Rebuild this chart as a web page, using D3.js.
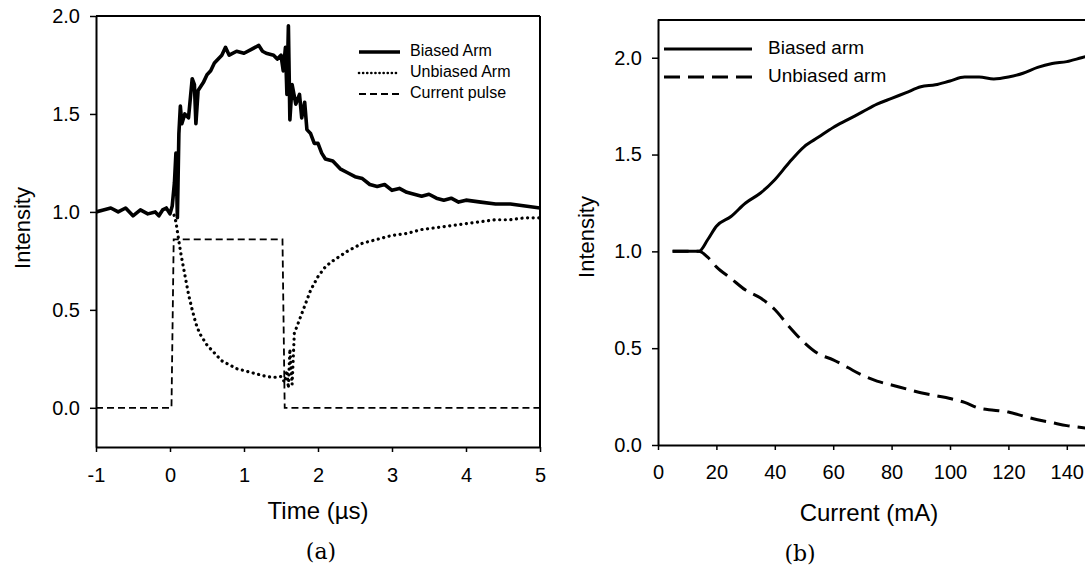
<!DOCTYPE html>
<html>
<head>
<meta charset="utf-8">
<script src="https://cdn.jsdelivr.net/npm/d3@7"></script>
<style>
  html, body { margin: 0; padding: 0; background: #fff; }
  svg { display: block; }
  text { font-family: "Liberation Sans", Arial, Helvetica, sans-serif; fill: #000; }
</style>
</head>
<body>
<svg id="chart" width="1085" height="570"></svg>
<script>
// ---------- Panel (a) data ----------
const biasedTime = [-1.0,-0.9,-0.8,-0.7,-0.6,-0.5,-0.4,-0.3,-0.2,-0.15,-0.1,-0.05,0.0,0.03,0.06,0.08,0.1,0.12,0.14,0.16,0.2,0.25,0.3,0.33,0.35,0.38,0.45,0.5,0.55,0.6,0.7,0.75,0.8,0.9,1.0,1.1,1.2,1.25,1.3,1.4,1.45,1.5,1.53,1.56,1.58,1.6,1.62,1.65,1.7,1.75,1.78,1.82,1.85,1.9,1.95,2.0,2.05,2.1,2.2,2.3,2.4,2.5,2.6,2.7,2.8,2.9,3.0,3.1,3.2,3.3,3.4,3.5,3.6,3.7,3.8,3.9,4.0,4.2,4.4,4.6,4.8,5.0];
const biasedVal  = [1.00,1.01,1.02,1.00,1.02,0.98,1.01,0.99,1.00,0.98,1.01,1.02,0.99,1.03,1.15,1.30,0.97,1.40,1.54,1.45,1.50,1.48,1.68,1.65,1.45,1.62,1.66,1.70,1.72,1.76,1.80,1.84,1.80,1.82,1.81,1.83,1.85,1.82,1.81,1.80,1.78,1.80,1.72,1.84,1.60,1.95,1.47,1.65,1.55,1.60,1.48,1.56,1.42,1.40,1.35,1.35,1.30,1.27,1.26,1.22,1.20,1.18,1.17,1.14,1.13,1.14,1.11,1.12,1.10,1.09,1.08,1.09,1.07,1.06,1.07,1.05,1.06,1.05,1.04,1.04,1.03,1.02];

const unbiasedTime = [0.0,0.05,0.08,0.1,0.12,0.15,0.2,0.25,0.3,0.35,0.4,0.5,0.6,0.7,0.8,0.9,1.0,1.1,1.2,1.3,1.4,1.5,1.55,1.58,1.6,1.62,1.65,1.68,1.72,1.8,1.9,2.0,2.1,2.2,2.4,2.6,2.8,3.0,3.2,3.4,3.6,3.8,4.0,4.2,4.4,4.6,4.8,5.0];
const unbiasedVal  = [1.00,0.99,0.95,0.90,0.85,0.78,0.68,0.58,0.50,0.43,0.38,0.32,0.28,0.24,0.22,0.20,0.19,0.18,0.17,0.16,0.155,0.16,0.13,0.19,0.10,0.30,0.12,0.38,0.42,0.50,0.60,0.67,0.72,0.75,0.80,0.84,0.86,0.88,0.89,0.91,0.92,0.93,0.94,0.95,0.96,0.96,0.97,0.97];

const pulseTime = [-1.0,0.02,0.05,1.52,1.55,5.0];
const pulseVal  = [0.0,0.0,0.86,0.86,0.0,0.0];

const aXTicks = [-1,0,1,2,3,4,5];
const aYTicks = [0.0,0.5,1.0,1.5,2.0];
const aLegend = ["Biased Arm","Unbiased Arm","Current pulse"];

// ---------- Panel (b) data ----------
const currentMA = [5,10,14,17,20,25,30,35,40,45,50,55,60,65,70,75,80,85,90,95,100,105,110,115,120,125,130,135,140,145,150];
const biasedArm = [1.0,1.0,1.0,1.06,1.13,1.18,1.25,1.30,1.37,1.46,1.54,1.59,1.64,1.68,1.72,1.76,1.79,1.82,1.85,1.86,1.88,1.90,1.90,1.89,1.90,1.92,1.95,1.97,1.98,2.00,2.02];
const unbiasedArm = [1.0,1.0,1.0,0.97,0.92,0.86,0.80,0.76,0.70,0.61,0.53,0.47,0.44,0.40,0.36,0.33,0.31,0.29,0.27,0.255,0.24,0.22,0.19,0.18,0.17,0.15,0.13,0.115,0.10,0.09,0.08];

const bXTicks = [0,20,40,60,80,100,120,140];
const bYTicks = [0.0,0.5,1.0,1.5,2.0];
const bLegend = ["Biased arm","Unbiased arm"];

const svg = d3.select("#chart");
svg.append("rect").attr("width",1085).attr("height",570).attr("fill","#fff");

const intFmt = d => (d < 0 ? "-" + Math.abs(d) : String(d));

function styleAxis(g) {
  g.attr("font-family", null).attr("font-size", null);
  g.selectAll("path.domain").attr("stroke","#000").attr("stroke-width",2);
  g.selectAll(".tick line").attr("stroke","#000").attr("stroke-width",1.5);
  g.selectAll(".tick text").style("font-size","20px").style("font-family","'Liberation Sans', Arial, sans-serif").attr("fill","#000");
}

// ================= Panel (a) =================
const ax = d3.scaleLinear().domain([-1,5]).range([96,540]);
const ay = d3.scaleLinear().domain([-0.2,2.0]).range([447,16]);

svg.append("clipPath").attr("id","clipA").append("rect")
  .attr("x",96).attr("y",16).attr("width",444).attr("height",431);

const gA = svg.append("g");
const plotA = gA.append("g").attr("clip-path","url(#clipA)");

const lineA = d3.line().x(d => ax(d[0])).y(d => ay(d[1]));

plotA.append("path")
  .datum(pulseTime.map((t,i) => [t,pulseVal[i]]))
  .attr("d", lineA).attr("fill","none").attr("stroke","#000")
  .attr("stroke-width",1.8).attr("stroke-dasharray","7,4");

plotA.append("path")
  .datum(unbiasedTime.map((t,i) => [t,unbiasedVal[i]]))
  .attr("d", lineA).attr("fill","none").attr("stroke","#000")
  .attr("stroke-width",3.2).attr("stroke-dasharray","0.1,5.5").attr("stroke-linecap","round");

plotA.append("path")
  .datum(biasedTime.map((t,i) => [t,biasedVal[i]]))
  .attr("d", lineA).attr("fill","none").attr("stroke","#000")
  .attr("stroke-width",3.6).attr("stroke-linejoin","round");

// frame
gA.append("line").attr("x1",96).attr("x2",540).attr("y1",16).attr("y2",16).attr("stroke","#000").attr("stroke-width",2);
gA.append("line").attr("x1",540).attr("x2",540).attr("y1",16).attr("y2",447).attr("stroke","#000").attr("stroke-width",2);

const aXAxis = gA.append("g").attr("transform","translate(0,447)")
  .call(d3.axisBottom(ax).tickValues(aXTicks).tickFormat(intFmt).tickSize(5).tickSizeOuter(0).tickPadding(16));
styleAxis(aXAxis);
const aYAxis = gA.append("g").attr("transform","translate(96,0)")
  .call(d3.axisLeft(ay).tickValues(aYTicks).tickFormat(d3.format(".1f")).tickSize(6).tickSizeOuter(0).tickPadding(10));
styleAxis(aYAxis);

gA.append("text").attr("x",318).attr("y",513).attr("text-anchor","middle").attr("dominant-baseline","middle")
  .style("font-size","24px").text("Time (\u00B5s)");
gA.append("text").attr("transform","translate(24,228) rotate(-90)").attr("text-anchor","middle").attr("dominant-baseline","middle")
  .style("font-size","22px").text("Intensity");
gA.append("text").attr("x",321).attr("y",553).attr("text-anchor","middle").attr("dominant-baseline","middle")
  .style("font-size","22px").style("font-family","'DejaVu Serif','Liberation Serif',serif").text("(a)");

// legend (a)
const aLegY = [52,73,94];
const aLegStyle = [
  {w:3.6, dash:null, cap:"butt"},
  {w:2.6, dash:"0.1,4", cap:"round"},
  {w:1.8, dash:"7,4", cap:"butt"}
];
aLegend.forEach((name,i) => {
  const l = gA.append("line").attr("x1",359).attr("x2",400).attr("y1",aLegY[i]).attr("y2",aLegY[i])
    .attr("stroke","#000").attr("stroke-width",aLegStyle[i].w).attr("stroke-linecap",aLegStyle[i].cap);
  if (aLegStyle[i].dash) l.attr("stroke-dasharray",aLegStyle[i].dash);
  gA.append("text").attr("x",410).attr("y",aLegY[i]).attr("dominant-baseline","middle")
    .style("font-size","16px").text(name);
});

// ================= Panel (b) =================
const bx = d3.scaleLinear().domain([0,150]).range([658,1096]);
const by = d3.scaleLinear().domain([0,2.2]).range([445,19]);

svg.append("clipPath").attr("id","clipB").append("rect")
  .attr("x",658).attr("y",19).attr("width",440).attr("height",426);

const gB = svg.append("g");
const plotB = gB.append("g").attr("clip-path","url(#clipB)");
const lineB = d3.line().x(d => bx(d[0])).y(d => by(d[1])).curve(d3.curveMonotoneX);

plotB.append("path")
  .datum(currentMA.map((c,i) => [c,unbiasedArm[i]]))
  .attr("d", lineB).attr("fill","none").attr("stroke","#000")
  .attr("stroke-width",3).attr("stroke-dasharray","16,8");

plotB.append("path")
  .datum(currentMA.map((c,i) => [c,biasedArm[i]]))
  .attr("d", lineB).attr("fill","none").attr("stroke","#000")
  .attr("stroke-width",3);

gB.append("line").attr("x1",658).attr("x2",1085).attr("y1",20).attr("y2",20).attr("stroke","#000").attr("stroke-width",2);

const bXAxis = gB.append("g").attr("transform","translate(0,445)")
  .call(d3.axisBottom(bx).tickValues(bXTicks).tickFormat(intFmt).tickSize(5).tickSizeOuter(0).tickPadding(15));
styleAxis(bXAxis);
const bYAxis = gB.append("g").attr("transform","translate(658,0)")
  .call(d3.axisLeft(by).tickValues(bYTicks).tickFormat(d3.format(".1f")).tickSize(6).tickSizeOuter(0).tickPadding(10));
styleAxis(bYAxis);

gB.append("text").attr("x",869).attr("y",515).attr("text-anchor","middle").attr("dominant-baseline","middle")
  .style("font-size","24px").text("Current (mA)");
gB.append("text").attr("transform","translate(588,237) rotate(-90)").attr("text-anchor","middle").attr("dominant-baseline","middle")
  .style("font-size","22px").text("Intensity");
gB.append("text").attr("x",800).attr("y",555).attr("text-anchor","middle").attr("dominant-baseline","middle")
  .style("font-size","22px").style("font-family","'DejaVu Serif','Liberation Serif',serif").text("(b)");

// legend (b)
const bLegY = [49,77];
const bLegDash = [null,"16,8"];
bLegend.forEach((name,i) => {
  const l = gB.append("line").attr("x1",664).attr("x2",752).attr("y1",bLegY[i]).attr("y2",bLegY[i])
    .attr("stroke","#000").attr("stroke-width",3);
  if (bLegDash[i]) l.attr("stroke-dasharray",bLegDash[i]);
  gB.append("text").attr("x",768).attr("y",bLegY[i]).attr("dominant-baseline","middle")
    .style("font-size","19px").text(name);
});
</script>
</body>
</html>
